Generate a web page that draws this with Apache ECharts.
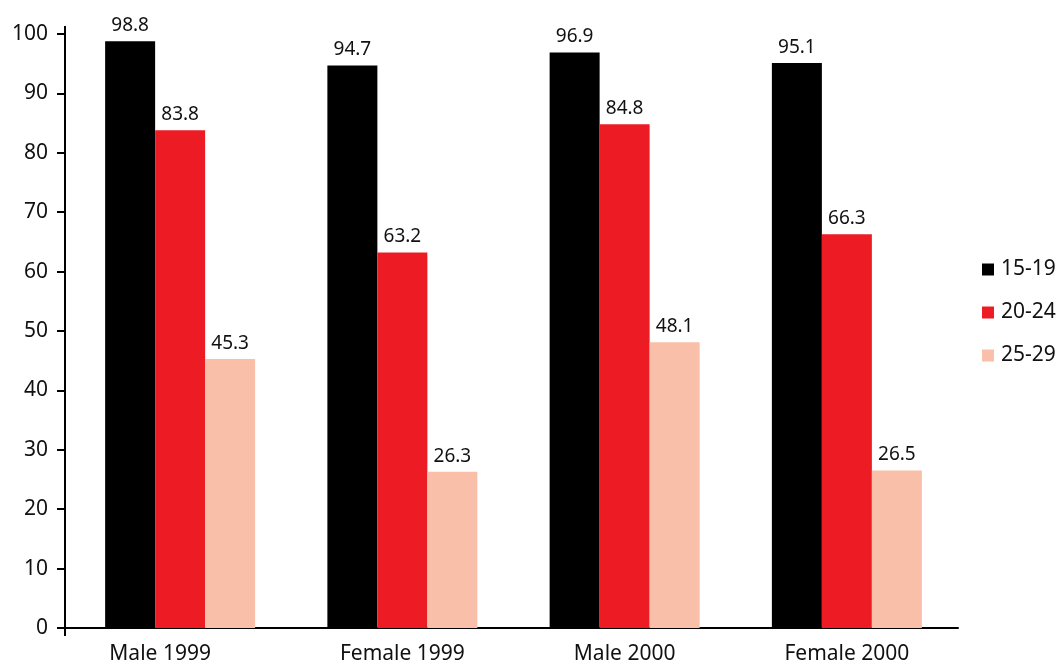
<!DOCTYPE html>
<html>
<head>
<meta charset="utf-8">
<script src="https://cdn.jsdelivr.net/npm/echarts@6/dist/echarts.min.js"></script>
<style>
  html, body { margin: 0; padding: 0; background: #fff; }
  #chart { width: 1063px; height: 669px; }
</style>
</head>
<body>
<div id="chart"></div>
<script>
// Groups along the x axis and the three age bands
const categories = ['Male 1999', 'Female 1999', 'Male 2000', 'Female 2000'];
const seriesNames = ['15-19', '20-24', '25-29'];
const age15to19 = [98.8, 94.7, 96.9, 95.1];
const age20to24 = [83.8, 63.2, 84.8, 66.3];
const age25to29 = [45.3, 26.3, 48.1, 26.5];
const yTicks = [0, 10, 20, 30, 40, 50, 60, 70, 80, 90, 100];

const colors = ['#000000', '#ED1C24', '#F9BFA8'];
const FONT = 'Noto Sans';
const GRID_LEFT = 69;
const Y_AXIS_OFFSET = 4;

const chart = echarts.init(document.getElementById('chart'), null, { renderer: 'canvas' });

function barSeries(name, data, color) {
  return {
    name: name,
    type: 'bar',
    data: data,
    barWidth: 50,
    barGap: '0%',
    itemStyle: { color: color },
    label: {
      show: true,
      position: 'top',
      distance: 6,
      color: '#111',
      fontFamily: FONT,
      fontSize: 19
    }
  };
}

const option = {
  animation: false,
  backgroundColor: '#ffffff',
  grid: { left: GRID_LEFT, right: 105, top: 34, bottom: 41, containLabel: false },
  legend: {
    orient: 'vertical',
    left: 977,
    top: 254,
    itemWidth: 12,
    itemHeight: 12,
    itemGap: 22,
    icon: 'rect',
    data: seriesNames,
    textStyle: { fontFamily: FONT, fontSize: 21, color: '#111', padding: [0, 0, 0, 2] }
  },
  xAxis: {
    type: 'category',
    data: categories,
    axisLine: { lineStyle: { color: '#000', width: 2 } },
    axisTick: { show: false },
    axisLabel: {
      interval: 0,
      hideOverlap: false,
      fontFamily: FONT,
      fontSize: 21,
      color: '#111',
      margin: 16,
      formatter: function (v, i) { return i === 0 ? '{shift|' + v + '}' : v; },
      rich: { shift: { fontFamily: FONT, fontSize: 21, color: '#111', padding: [0, 40, 0, 0] } }
    }
  },
  yAxis: {
    type: 'value',
    min: yTicks[0],
    max: yTicks[yTicks.length - 1],
    interval: 10,
    offset: Y_AXIS_OFFSET,
    axisLine: { show: true, lineStyle: { color: '#000', width: 2 } },
    axisTick: { show: true, length: 8, lineStyle: { color: '#000', width: 2 } },
    splitLine: { show: false },
    axisLabel: { fontFamily: FONT, fontSize: 21, color: '#111', margin: 17 }
  },
  series: [
    barSeries(seriesNames[0], age15to19, colors[0]),
    barSeries(seriesNames[1], age20to24, colors[1]),
    barSeries(seriesNames[2], age25to29, colors[2])
  ]
};

chart.setOption(option);

// Extend the y axis line a little past both ends, and carry the x axis over to it
const axisX = GRID_LEFT - Y_AXIS_OFFSET;
const axisTopY = chart.convertToPixel({ yAxisIndex: 0 }, yTicks[yTicks.length - 1]);
const axisBottomY = chart.convertToPixel({ yAxisIndex: 0 }, yTicks[0]);
chart.setOption({
  graphic: [
    { type: 'line', shape: { x1: axisX, y1: axisTopY, x2: axisX, y2: axisTopY - 8 }, style: { stroke: '#000', lineWidth: 2 } },
    { type: 'line', shape: { x1: axisX, y1: axisBottomY, x2: axisX, y2: axisBottomY + 8 }, style: { stroke: '#000', lineWidth: 2 } },
    { type: 'line', shape: { x1: axisX - 8, y1: axisBottomY, x2: GRID_LEFT, y2: axisBottomY }, style: { stroke: '#000', lineWidth: 2 } }
  ]
});
</script>
</body>
</html>
